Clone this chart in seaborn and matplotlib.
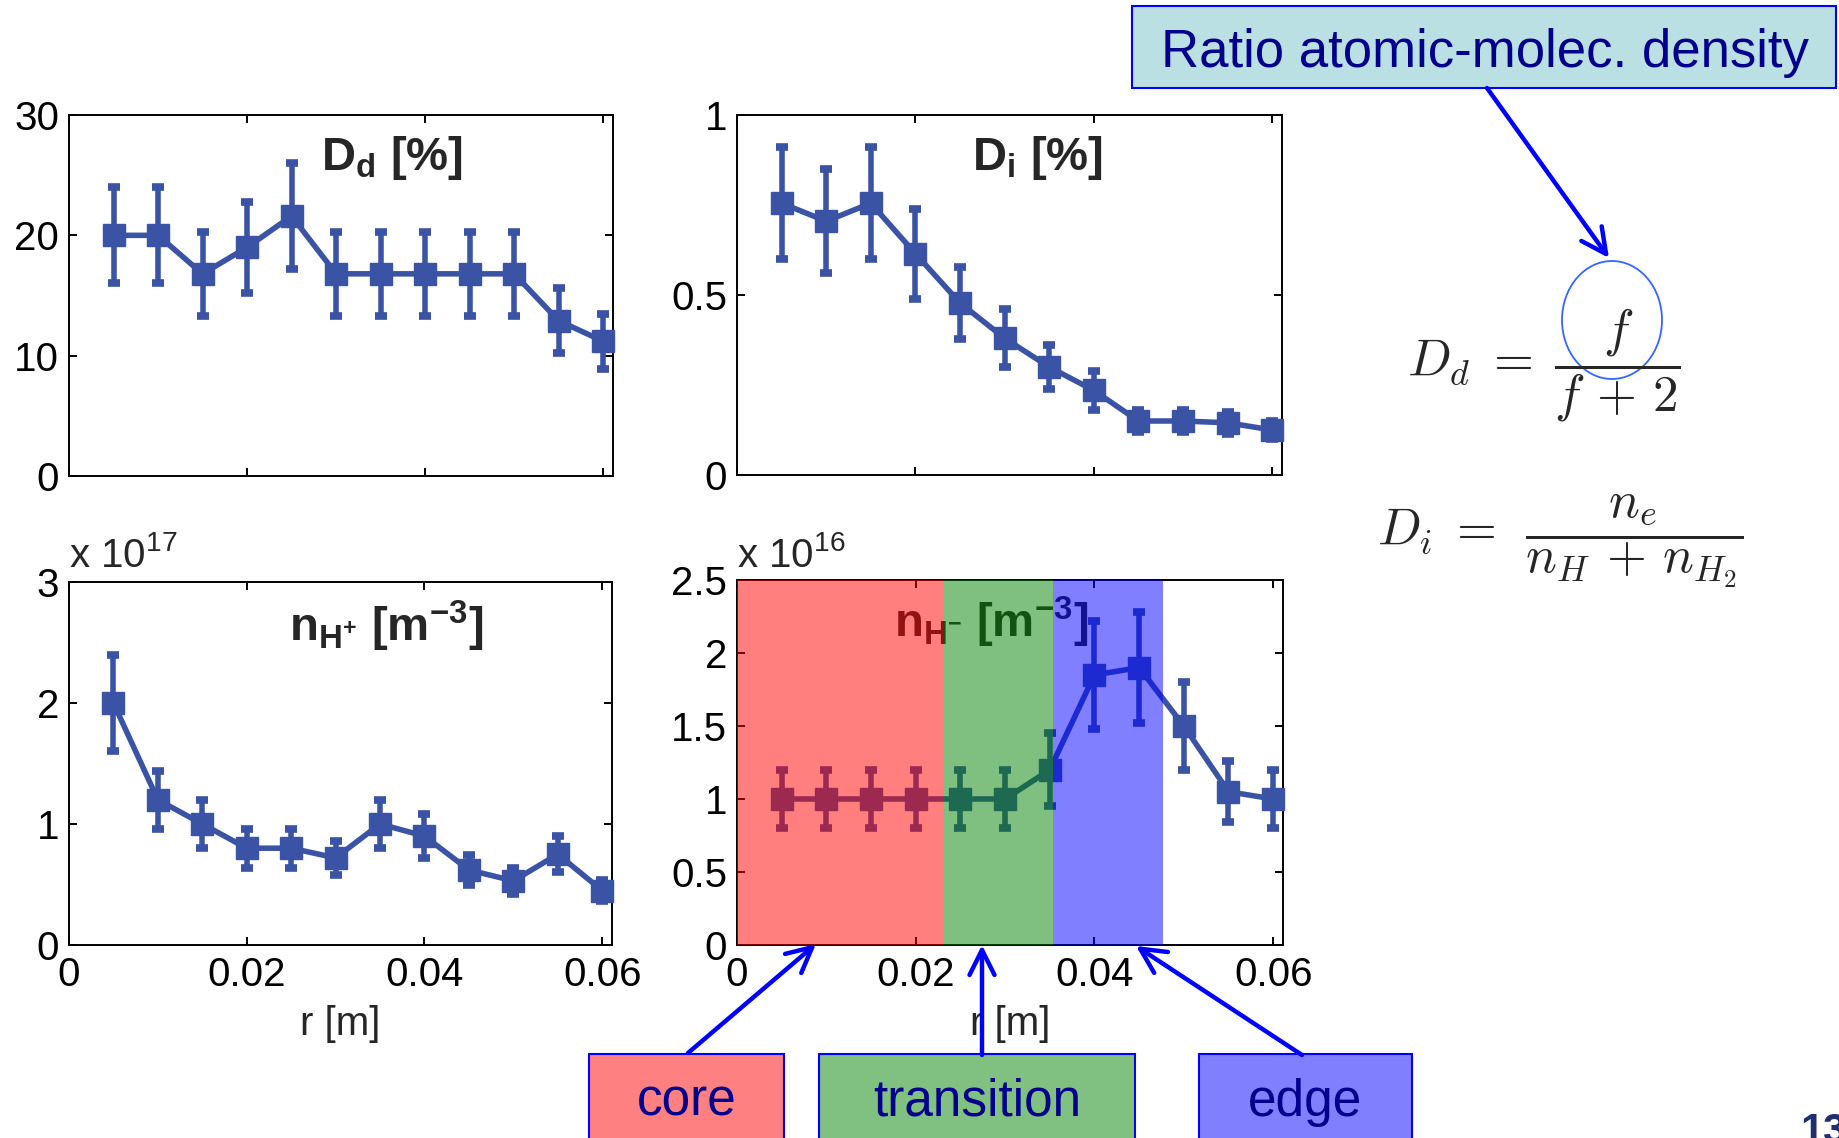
import matplotlib
matplotlib.use("Agg")
import matplotlib.pyplot as plt
from matplotlib.patches import Rectangle, Ellipse, FancyArrowPatch
from matplotlib.ticker import FixedLocator, FuncFormatter
import pandas as pd
import seaborn as sns

# radial positions [m]
r = [0.005, 0.010, 0.015, 0.020, 0.025, 0.030, 0.035, 0.040, 0.045, 0.050, 0.055, 0.060]

# degree of dissociation D_d [%]
Dd = [20.0, 20.0, 16.8, 19.0, 21.6, 16.8, 16.8, 16.8, 16.8, 16.8, 12.9, 11.2]
Dd_err = [4.0, 4.0, 3.5, 3.8, 4.4, 3.5, 3.5, 3.5, 3.5, 3.5, 2.7, 2.3]

# degree of ionisation D_i [%]
Di = [0.755, 0.705, 0.755, 0.615, 0.478, 0.38, 0.30, 0.235, 0.15, 0.15, 0.145, 0.125]
Di_err = [0.155, 0.145, 0.155, 0.125, 0.10, 0.08, 0.06, 0.055, 0.03, 0.03, 0.03, 0.025]

# positive ion density [x 1e17 m^-3]
nHp = [2.0, 1.2, 1.0, 0.8, 0.8, 0.72, 1.0, 0.9, 0.62, 0.53, 0.75, 0.45]
nHp_err = [0.4, 0.24, 0.2, 0.16, 0.16, 0.14, 0.2, 0.18, 0.12, 0.11, 0.15, 0.09]

# negative ion density [x 1e16 m^-3]
nHm = [1.0, 1.0, 1.0, 1.0, 1.0, 1.0, 1.2, 1.85, 1.9, 1.5, 1.05, 1.0]
nHm_err = [0.2, 0.2, 0.2, 0.2, 0.2, 0.2, 0.25, 0.37, 0.38, 0.3, 0.21, 0.2]

# plasma regions [m]
region_names = ["core", "transition", "edge"]
region_edges = [0.0, 0.0231, 0.0354, 0.0477]
region_colors = ["#FF0000", "#008000", "#0000FF"]
box_colors = ["#FF8080", "#80C080", "#8080FF"]

x_ticks = [0, 0.02, 0.04, 0.06]

sns.set_style("ticks")
plt.rcParams["font.family"] = ["Liberation Sans", "DejaVu Sans"]
plt.rcParams["mathtext.fontset"] = "custom"
plt.rcParams["mathtext.rm"] = "Liberation Sans"
plt.rcParams["mathtext.it"] = "Liberation Sans:italic"
plt.rcParams["mathtext.bf"] = "Liberation Sans:bold"

W, H = 1839, 1138
fig = plt.figure(figsize=(W / 100, H / 100), dpi=100)
fig.patch.set_facecolor("white")

LINE = "#3B53A4"
NAVY = "#00008C"
TICK_FS = 29
TITLE_FS = 34


def px_axes(left, top, right, bottom):
    return fig.add_axes([left / W, 1 - bottom / H, (right - left) / W, (bottom - top) / H])


def fig_xy(x, y):
    return (x / W, 1 - y / H)


def fmt(v, _):
    return "%g" % v


def panel(ax, y, err, ylim, yticks, title, tx, ty, show_xlabels):
    df = pd.DataFrame({"r": r, "v": y})
    ax.errorbar(r, y, yerr=err, fmt="none", ecolor=LINE, elinewidth=4.0,
                capsize=4.2, capthick=5.5, zorder=2, clip_on=False)
    sns.lineplot(data=df, x="r", y="v", ax=ax, color=LINE, lw=4.0, marker="s",
                 markersize=16, markeredgecolor=LINE, markeredgewidth=1,
                 zorder=3, clip_on=False)
    ax.set_xlim(0, 0.0611)
    ax.set_ylim(*ylim)
    ax.xaxis.set_major_locator(FixedLocator(x_ticks))
    ax.yaxis.set_major_locator(FixedLocator(yticks))
    ax.xaxis.set_major_formatter(FuncFormatter(fmt))
    ax.yaxis.set_major_formatter(FuncFormatter(fmt))
    ax.tick_params(direction="in", top=True, right=True, length=6, width=1.4,
                   labelsize=TICK_FS, pad=7, colors="black")
    ax.tick_params(axis="x", pad=8, labelbottom=show_xlabels)
    for s in ax.spines.values():
        s.set_linewidth(1.4)
        s.set_color("black")
    ax.set_ylabel("")
    if show_xlabels:
        ax.set_xlabel("r [m]", fontsize=TICK_FS, labelpad=8)
    else:
        ax.set_xlabel("")
    ax.text(tx, ty, title, transform=ax.transAxes, fontsize=TITLE_FS,
            fontweight="bold", ha="left", va="baseline", zorder=4)


ax_dd = px_axes(69, 115, 613, 476)
ax_di = px_axes(737, 115, 1282, 475)
ax_np = px_axes(69, 582, 612, 945)
ax_nm = px_axes(737, 580, 1283, 945)

panel(ax_dd, Dd, Dd_err, (0, 30), [0, 10, 20, 30],
      r"D$_{\mathregular{d}}$ [%]", 0.464, 0.848, False)
panel(ax_di, Di, Di_err, (0, 1), [0, 0.5, 1],
      r"D$_{\mathregular{i}}$ [%]", 0.431, 0.847, False)
panel(ax_np, nHp, nHp_err, (0, 3), [0, 1, 2, 3],
      r"n$_{\mathregular{H}^{\mathregular{+}}}$ [m$^{\mathregular{-3}}$]", 0.406, 0.835, True)
panel(ax_nm, nHm, nHm_err, (0, 2.5), [0, 0.5, 1, 1.5, 2, 2.5],
      r"n$_{\mathregular{H}^{\mathregular{-}}}$ [m$^{\mathregular{-3}}$]", 0.287, 0.844, True)

ax_np.text(0, 1.041, r"x 10$^{\mathregular{17}}$", transform=ax_np.transAxes,
           fontsize=TICK_FS, ha="left", va="baseline")
ax_nm.text(0, 1.036, r"x 10$^{\mathregular{16}}$", transform=ax_nm.transAxes,
           fontsize=TICK_FS, ha="left", va="baseline")

# translucent region overlays on the negative-ion profile
for i, c in enumerate(region_colors):
    ax_nm.axvspan(region_edges[i], region_edges[i + 1], color=c, alpha=0.5,
                  lw=0, zorder=5)

# formulas
fig.text(*fig_xy(1407, 365), r"$D_d\;=\;\dfrac{f}{f\,+\,2}$", math_fontfamily="cm",
         fontsize=37, ha="left", va="center")
fig.text(*fig_xy(1377, 541), r"$D_i\;=\;\,\dfrac{n_e}{n_H\,+\,n_{H_2}}$", math_fontfamily="cm",
         fontsize=37, ha="left", va="center")
fig.add_artist(Ellipse(fig_xy(1612, 320), 100 / W, 118 / H, transform=fig.transFigure,
                       fill=False, ec="#3366FF", lw=1.3))


def box(x0, y0, x1, y1, face, label, tx, ty, fs):
    fig.add_artist(Rectangle(fig_xy(x0, y1), (x1 - x0) / W, (y1 - y0) / H,
                             transform=fig.transFigure, fc=face, ec="#0000FF", lw=1.5))
    fig.text(*fig_xy(tx, ty), label, fontsize=fs, color=NAVY, ha="center", va="baseline")


def arrow(x0, y0, x1, y1):
    fig.add_artist(FancyArrowPatch(fig_xy(x0, y0), fig_xy(x1, y1), transform=fig.transFigure,
                                   arrowstyle="->,head_length=0.9,head_width=0.45",
                                   mutation_scale=20, lw=3.2, color="#0000FF",
                                   shrinkA=0, shrinkB=0))


box(1132, 6, 1836, 88, "#BBE0E3", "Ratio atomic-molec. density", 1485, 67, 38)
arrow(1487, 88, 1609, 258)

box_x = [(589, 784), (819, 1135), (1199, 1412)]
arrow_tips = [(816, 944), (982, 945), (1136, 946)]
arrow_tails = [(688, 1053), (982, 1055), (1302, 1055)]
for i, name in enumerate(region_names):
    x0, x1 = box_x[i]
    box(x0, 1054, x1, 1150, box_colors[i], name, (x0 + x1) / 2, 1116, 37)
    arrow(*arrow_tails[i], *arrow_tips[i])

fig.text(*fig_xy(1800, 1112), "13", fontsize=30, fontweight="bold", color="#1F2F6F",
         ha="left", va="top")

fig.savefig("out.png", dpi=100)
